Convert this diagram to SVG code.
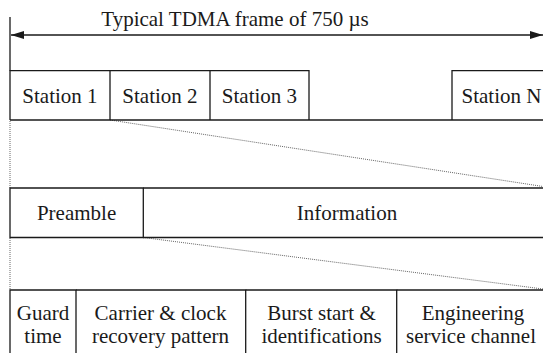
<svg xmlns="http://www.w3.org/2000/svg" width="543" height="353" viewBox="0 0 543 353">
<style>
.t{font-family:"Liberation Serif","Times New Roman",serif;font-size:21px;fill:#1a1a1a;text-anchor:middle}
.s{stroke:#1a1a1a;stroke-width:1.3;fill:none}
.d{stroke:#666;stroke-width:1;stroke-dasharray:1 1;fill:none}
</style>
<defs>
<marker id="ah" viewBox="0 0 13 8" refX="13" refY="4" markerWidth="13" markerHeight="8" markerUnits="userSpaceOnUse" orient="auto-start-reverse">
<path d="M0,0 L13,4 L0,8 Z" fill="#1a1a1a"/>
</marker>
</defs>
<rect width="543" height="353" fill="#fff"/>
<g id="title">
<text class="t" x="235" y="26">Typical TDMA frame of 750 µs</text>
</g>
<g id="connectors">
<line class="s" x1="10" y1="17" x2="10" y2="70.7"/>
<line class="s" x1="11" y1="35" x2="543" y2="35" marker-start="url(#ah)" marker-end="url(#ah)"/>
<line class="d" x1="10" y1="121" x2="10" y2="188"/>
<line class="d" x1="10" y1="238" x2="10" y2="290"/>
<line class="d" x1="110" y1="120" x2="543" y2="186.5"/>
<line class="d" x1="143.3" y1="237.5" x2="543" y2="289"/>
<line class="s" x1="10" y1="120" x2="543" y2="120"/>
</g>
<g id="station1">
<path class="s" d="M10,120 V70.7 H110 V120"/>
<text class="t" x="60" y="103.3">Station 1</text>
</g>
<g id="station2">
<path class="s" d="M110,70.7 H210 V120"/>
<text class="t" x="160" y="103.3">Station 2</text>
</g>
<g id="station3">
<path class="s" d="M210,70.7 H309 V120"/>
<text class="t" x="259.5" y="103.3">Station 3</text>
</g>
<g id="stationN">
<path class="s" d="M543,70.7 H452 V120"/>
<text class="t" x="501.5" y="103.3">Station N</text>
</g>
<g id="preamble">
<path class="s" d="M143.3,188 H10 V237.5 H143.3 Z"/>
<text class="t" x="76.6" y="220">Preamble</text>
</g>
<g id="information">
<path class="s" d="M143.3,188 H543 M143.3,237.5 H543"/>
<text class="t" x="347" y="220">Information</text>
</g>
<g id="guard">
<path class="s" d="M10,353 V290 H76 V353"/>
<text class="t" x="43" y="319.5">Guard</text>
<text class="t" x="43" y="343.3">time</text>
</g>
<g id="carrier">
<path class="s" d="M76,290 H245.7 V353"/>
<text class="t" x="160.5" y="319.5">Carrier &amp; clock</text>
<text class="t" x="160.5" y="343.3">recovery pattern</text>
</g>
<g id="burst">
<path class="s" d="M245.7,290 H396.7 V353"/>
<text class="t" x="321.5" y="319.5">Burst start &amp;</text>
<text class="t" x="321.5" y="343.3">identifications</text>
</g>
<g id="engineering">
<path class="s" d="M396.7,290 H543"/>
<text class="t" x="473" y="319.5">Engineering</text>
<text class="t" x="471" y="343.3">service channel</text>
</g>
</svg>
